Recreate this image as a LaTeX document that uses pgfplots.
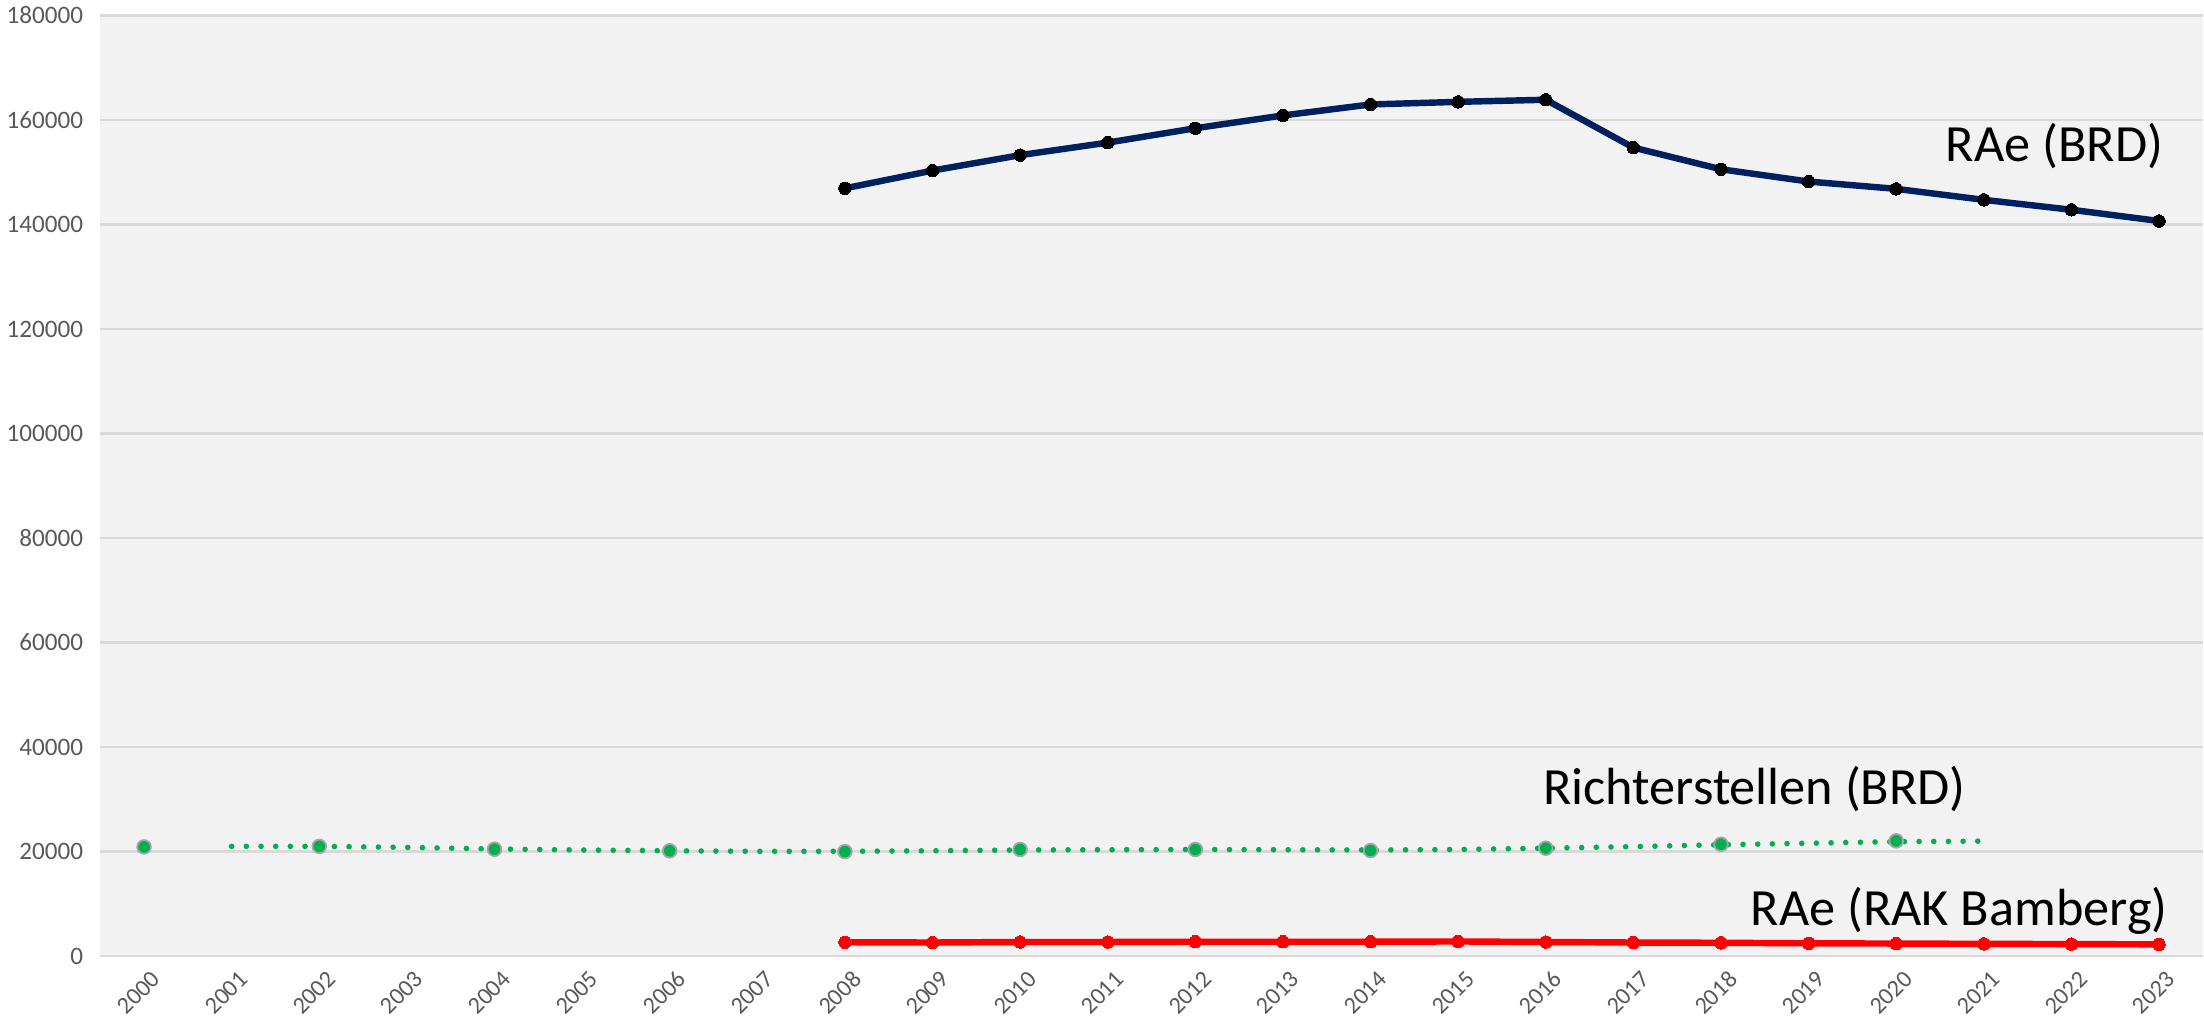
\documentclass[border=0pt]{standalone}
\usepackage{fontspec}
\setmainfont{Carlito}
\usepackage{pgfplots}
\pgfplotsset{compat=1.18}
\definecolor{navyl}{HTML}{002060}
\definecolor{grn}{HTML}{00B050}
\definecolor{bg}{HTML}{F2F2F2}
\definecolor{gridc}{HTML}{D9D9D9}
\definecolor{tickc}{HTML}{595959}
\begin{document}
\begin{tikzpicture}
\begin{axis}[
  scale only axis, width=1046pt, height=468pt,
  xmin=-0.5, xmax=23.5, ymin=0, ymax=180000,
  xtick={0,1,2,3,4,5,6,7,8,9,10,11,12,13,14,15,16,17,18,19,20,21,22,23},
  xticklabels={2000,2001,2002,2003,2004,2005,2006,2007,2008,2009,2010,2011,2012,2013,2014,2015,2016,2017,2018,2019,2020,2021,2022,2023},
  ytick={0,20000,40000,60000,80000,100000,120000,140000,160000,180000},
  yticklabels={0,20000,40000,60000,80000,100000,120000,140000,160000,180000},
  scaled y ticks=false,
  axis line style={draw=none},
  major tick length=0pt,
  ymajorgrids, xmajorgrids=false,
  grid style={gridc, line width=1.2pt},
  axis background/.style={fill=bg},
  yticklabel style={font=\fontsize{12.5}{14}\selectfont, text=tickc, anchor=east, xshift=-5pt},
  xticklabel style={font=\fontsize{12}{14}\selectfont, text=tickc, rotate=45, anchor=east, yshift=-11pt, xshift=1pt},
  clip=false,
]
% trend (dotted)
\addplot[grn, line width=2.8pt, line cap=round, dash pattern=on 0pt off 7.3pt, mark=none] coordinates {
(1,21000)(2,21000)(3,20800)(4,20500)(5,20300)(6,20150)(7,20050)(8,20050)(9,20150)(10,20300)
(11,20350)(12,20400)(13,20350)(14,20300)(15,20400)(16,20650)(17,20950)(18,21300)(19,21600)(20,21900)(21,22000)};
% Richterstellen markers
\addplot[only marks, mark=*, mark size=3.4pt, mark options={fill=grn, draw=gray!70, line width=0.9pt}] coordinates {
(0,20900)(2,21000)(4,20450)(6,20150)(8,20000)(10,20400)(12,20400)(14,20200)(16,20650)(18,21400)(20,22050)};
% RAe BRD
\addplot[navyl, line width=3.2pt, mark=*, mark size=3.1pt, mark options={fill=black, draw=black, line width=0pt}] coordinates {
(8,146900)(9,150300)(10,153250)(11,155650)(12,158400)(13,160850)(14,162950)(15,163450)(16,163850)
(17,154700)(18,150550)(19,148200)(20,146800)(21,144700)(22,142800)(23,140650)};
% RAe RAK Bamberg
\addplot[red, line width=3.2pt, mark=*, mark size=3.1pt, mark options={fill=red, draw=red, line width=0pt}] coordinates {
(8,2650)(9,2600)(10,2700)(11,2700)(12,2750)(13,2750)(14,2750)(15,2800)(16,2700)
(17,2600)(18,2550)(19,2450)(20,2400)(21,2350)(22,2300)(23,2250)};
\node[anchor=east, font=\fontsize{26}{30}\selectfont, inner sep=0pt] at (axis cs:23.05,155000) {RAe (BRD)};
\node[anchor=east, font=\fontsize{26}{30}\selectfont, inner sep=0pt] at (axis cs:20.8,32000) {Richterstellen (BRD)};
\node[anchor=east, font=\fontsize{26}{30}\selectfont, inner sep=0pt] at (axis cs:23.1,8700) {RAe (RAK Bamberg)};
\end{axis}
\path ([yshift=-3pt]current bounding box.south) coordinate (pad);
\end{tikzpicture}
\end{document}
